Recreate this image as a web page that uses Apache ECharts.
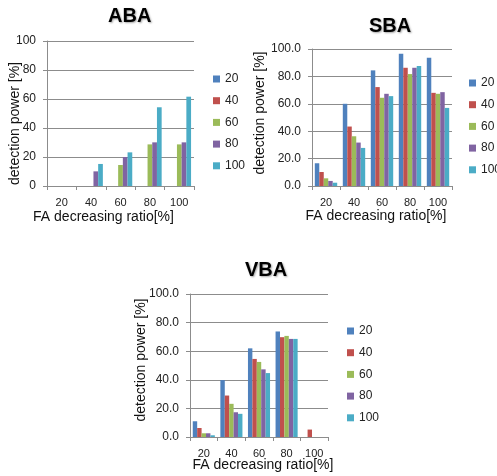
<!DOCTYPE html>
<html>
<head>
<meta charset="utf-8">
<script src="https://cdn.jsdelivr.net/npm/echarts@6/dist/echarts.min.js"></script>
<style>
html,body{margin:0;padding:0;background:#fff;}
#c{width:497px;height:476px;}
</style>
</head>
<body>
<div id="c"></div>
<script>
const categories = ['20', '40', '60', '80', '100'];
const seriesNames = ['20', '40', '60', '80', '100'];
const colors = ['#4F81BD', '#C0504D', '#9BBB59', '#8064A2', '#4BACC6'];

// ABA
const aba20 = [0, 0, 0, 0, 0];
const aba40 = [0, 0, 0, 0, 0];
const aba60 = [0, 0, 14.5, 28.7, 28.7];
const aba80 = [0, 10.1, 20, 30.1, 30.1];
const aba100 = [0, 15.2, 23.2, 54.3, 61.6];

// SBA
const sba20 = [16.6, 60, 84.4, 96.6, 93.7];
const sba40 = [10.2, 43.4, 72.2, 86.3, 68];
const sba60 = [5.6, 36.3, 64.4, 81.7, 67.3];
const sba80 = [3.7, 31.7, 67.3, 86.3, 68.5];
const sba100 = [2.4, 27.8, 65.6, 87.6, 57];

// VBA
const vba20 = [11, 39.8, 62, 73.8, 0];
const vba40 = [6.3, 29, 54.6, 69.8, 5.2];
const vba60 = [2.6, 23.2, 52.5, 70.7, 0];
const vba80 = [2.6, 17.3, 47.3, 68.6, 0];
const vba100 = [1.2, 16.2, 44.7, 68.6, 0];

const titles = ['ABA', 'SBA', 'VBA'];
const xAxisName = 'FA decreasing ratio[%]';
const yAxisName = 'detection power [%]';

const FONT = '"Liberation Sans", Arial, sans-serif';
const GRIDC = '#8c8c8c';

const chartData = [
  [aba20, aba40, aba60, aba80, aba100],
  [sba20, sba40, sba60, sba80, sba100],
  [vba20, vba40, vba60, vba80, vba100]
];

const grids = [
  {left: 47, top: 41, width: 147, height: 145},
  {left: 312, top: 49, width: 140, height: 137},
  {left: 190, top: 294, width: 138, height: 143}
];
const titlePos = [{left: 108, top: 6}, {left: 369, top: 16}, {left: 245, top: 260}];
const legendPos = [{left: 213, top: 72}, {left: 469, top: 76}, {left: 347, top: 324}];
const xNameGap = [24, 23, 21];
const xNamePad = [[0, 34, 0, 0], [0, 12, 0, 0], [0, 0, 0, 8]];
const yNameGap = [25, 45, 42];
const yNamePad = [[0, 20, 0, 0], [0, 0, 0, 9], [0, 0, 0, 11]];
const decimals = [0, 1, 1];

const option = {
  backgroundColor: '#fff',
  animation: false,
  color: colors,
  title: titles.map((t, i) => ({
    text: t, left: titlePos[i].left, top: titlePos[i].top, padding: 0,
    textStyle: {fontFamily: FONT, fontSize: 20, fontWeight: 'bold', color: '#000',
      textShadowColor: 'rgba(0,0,0,0.35)', textShadowBlur: 2, textShadowOffsetX: 1, textShadowOffsetY: 1}
  })),
  legend: legendPos.map((p) => ({
    orient: 'vertical', left: p.left, top: p.top, padding: 0,
    itemWidth: 7, itemHeight: 7, itemGap: 7.7, icon: 'rect',
    data: seriesNames,
    textStyle: {fontFamily: FONT, fontSize: 12, color: '#222', lineHeight: 14}
  })),
  grid: grids.map(g => Object.assign({containLabel: false}, g)),
  xAxis: grids.map((g, i) => ({
    type: 'category', gridIndex: i, data: categories,
    name: xAxisName, nameLocation: 'middle', nameGap: xNameGap[i], nameMoveOverlap: false,
    nameTextStyle: {fontFamily: FONT, fontSize: 14, color: '#111', padding: xNamePad[i]},
    axisLine: {lineStyle: {color: GRIDC}},
    axisTick: {show: true, length: 4, lineStyle: {color: GRIDC}},
    axisLabel: {fontFamily: FONT, fontSize: 11, color: '#222', margin: 11}
  })),
  yAxis: grids.map((g, i) => ({
    type: 'value', gridIndex: i, min: 0, max: 100, interval: 20,
    name: yAxisName, nameLocation: 'middle', nameGap: yNameGap[i], nameMoveOverlap: false,
    nameTextStyle: {fontFamily: FONT, fontSize: 14, color: '#111', padding: yNamePad[i]},
    axisLine: {show: true, lineStyle: {color: GRIDC}},
    axisTick: {show: true, length: 4, lineStyle: {color: GRIDC}},
    splitLine: {show: true, lineStyle: {color: GRIDC, width: 1}},
    axisLabel: {fontFamily: FONT, fontSize: 12, color: '#222', margin: 11,
      formatter: v => v.toFixed(decimals[i])}
  })),
  series: []
};

chartData.forEach((set, gi) => {
  set.forEach((vals, si) => {
    option.series.push({
      type: 'bar', name: seriesNames[si], xAxisIndex: gi, yAxisIndex: gi,
      data: vals, barGap: '0%', barCategoryGap: '20%',
      itemStyle: {color: colors[si]}
    });
  });
});

const chart = echarts.init(document.getElementById('c'), null, {renderer: 'canvas'});
chart.setOption(option);
</script>
</body>
</html>
